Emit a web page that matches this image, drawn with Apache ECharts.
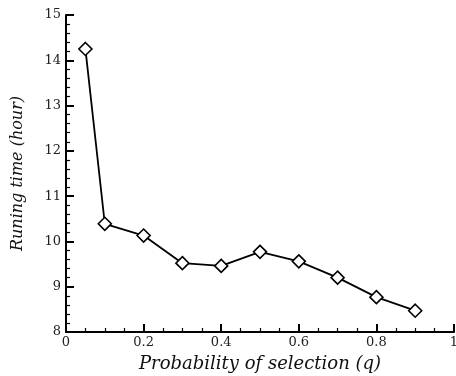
<!DOCTYPE html>
<html>
<head>
<meta charset="utf-8">
<script src="https://cdn.jsdelivr.net/npm/echarts@6/dist/echarts.min.js"></script>
<style>
  html, body { margin: 0; padding: 0; background: #fff; }
  #chart { width: 456px; height: 376px; }
</style>
</head>
<body>
<div id="chart"></div>
<script>
// Probability of selection (q) vs. running time in hours
const qValues = [0.05, 0.1, 0.2, 0.3, 0.4, 0.5, 0.6, 0.7, 0.8, 0.9];
const runningHours = [14.25, 10.39, 10.13, 9.52, 9.46, 9.77, 9.56, 9.20, 8.77, 8.47];
const xTitle = 'Probability of selection (q)';
const yTitle = 'Runing time (hour)';

const serif = '"DejaVu Serif", "Liberation Serif", serif';
const chart = echarts.init(document.getElementById('chart'));

// Shared axis look: heavy axis lines, ticks pointing into the plot
const tickStyle = {
  axisLine: { show: true, onZero: false, lineStyle: { color: '#000', width: 2 } },
  axisTick: { show: true, inside: true, length: 8, lineStyle: { color: '#000', width: 2 } },
  splitLine: { show: false }
};

chart.setOption({
  animation: false,
  backgroundColor: '#ffffff',
  grid: { left: 66, right: 2, top: 15, bottom: 44, containLabel: false, outerBoundsMode: 'none' },
  xAxis: Object.assign({
    type: 'value',
    min: 0, max: 1, interval: 0.2,
    name: xTitle,
    nameLocation: 'middle',
    nameGap: 23,
    nameTextStyle: { fontFamily: serif, fontStyle: 'italic', fontSize: 18, color: '#111' },
    minorTick: { show: true, splitNumber: 4, length: 4, lineStyle: { color: '#000', width: 1.2 } },
    axisLabel: {
      fontFamily: serif, fontSize: 13, color: '#222', margin: 4,
      formatter: v => (Math.abs(v - 1) < 1e-9 ? '1' : (v === 0 ? '0' : v.toFixed(1)))
    }
  }, tickStyle),
  yAxis: Object.assign({
    type: 'value',
    min: 8, max: 15, interval: 1,
    name: yTitle,
    nameLocation: 'middle',
    nameGap: 40,
    nameRotate: 90,
    nameTextStyle: { fontFamily: serif, fontStyle: 'italic', fontSize: 16, color: '#111' },
    minorTick: { show: true, splitNumber: 5, length: 4, lineStyle: { color: '#000', width: 1.2 } },
    axisLabel: { fontFamily: serif, fontSize: 13, color: '#222', margin: 5 }
  }, tickStyle),
  series: [{
    type: 'line',
    data: qValues.map((q, i) => [q, runningHours[i]]),
    symbol: 'diamond',
    symbolSize: 13,
    showAllSymbol: true,
    lineStyle: { color: '#000', width: 1.8 },
    itemStyle: { color: '#fff', borderColor: '#000', borderWidth: 1.6 },
    z: 3
  }]
});
</script>
</body>
</html>
